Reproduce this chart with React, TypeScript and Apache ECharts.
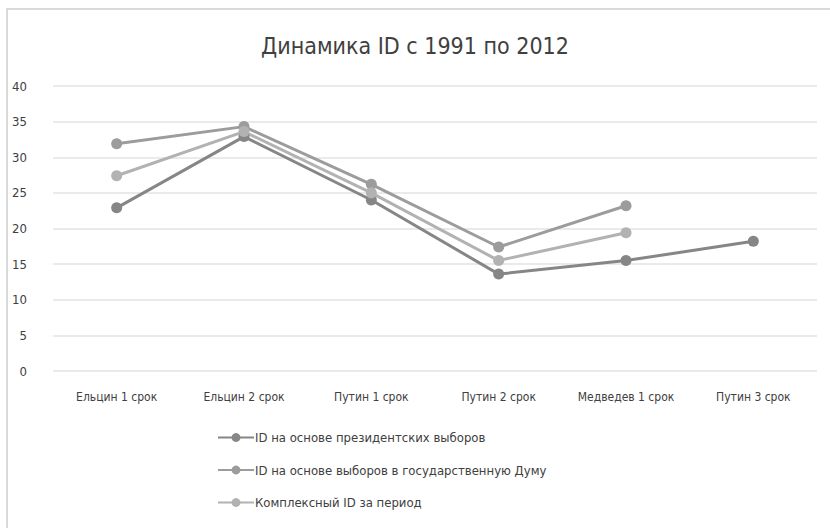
import React, { useEffect, useRef } from "react";
import * as echarts from "echarts";

const categories = ["Ельцин 1 срок", "Ельцин 2 срок", "Путин 1 срок", "Путин 2 срок", "Медведев 1 срок", "Путин 3 срок"];
const seriesNames = [
  "ID на основе президентских выборов",
  "ID на основе выборов в государственную Думу",
  "Комплексный ID за период",
];
const presidential = [22.9, 32.9, 24.0, 13.6, 15.5, 18.2];
const duma = [31.9, 34.3, 26.2, 17.4, 23.2, null];
const complexId = [27.4, 33.6, 25.0, 15.5, 19.4, null];
const yTicks = { min: 0, max: 40, interval: 5 };

const colors = ["#868686", "#9c9c9c", "#b2b2b2"];
const FONT = "'DejaVu Sans Condensed', 'Liberation Sans Narrow', 'Noto Sans', sans-serif";

export default function App() {
  const ref = useRef<HTMLDivElement>(null);
  useEffect(() => {
    document.body.style.margin = "0";
    const chart = echarts.init(ref.current!, null, { renderer: "svg" });
    const data = [presidential, duma, complexId];
    chart.setOption({
      animation: false,
      backgroundColor: "#ffffff",
      title: {
        text: "Динамика ID с 1991 по 2012",
        left: "center",
        top: 29,
        textStyle: { fontFamily: FONT, fontSize: 23, fontWeight: "normal", color: "#404040" },
      },
      graphic: [
        {
          type: "polyline",
          shape: { points: [[7, 528], [7, 9], [830, 9]] },
          style: { stroke: "#d9d9d9", lineWidth: 2, fill: null },
        },
      ],
      grid: { left: 53, right: 13, top: 86, bottom: 157 },
      legend: {
        orient: "vertical",
        left: 212,
        top: 426,
        itemGap: 19.5,
        itemWidth: 36,
        itemHeight: 11,
        data: seriesNames,
        textStyle: { fontFamily: FONT, fontSize: 13, color: "#404040", padding: [0, 0, 0, -4] },
      },
      xAxis: {
        type: "category",
        data: categories,
        boundaryGap: true,
        axisLine: { show: false },
        axisTick: { show: false },
        axisLabel: { interval: 0, fontFamily: FONT, fontSize: 12, color: "#404040", margin: 20 },
      },
      yAxis: {
        type: "value",
        min: yTicks.min,
        max: yTicks.max,
        interval: yTicks.interval,
        axisLine: { show: false },
        axisTick: { show: false },
        axisLabel: { fontFamily: FONT, fontSize: 13, color: "#404040", margin: 26 },
        splitLine: { lineStyle: { color: "#e3e3e3", width: 1.5 } },
      },
      series: seriesNames.map((name, i) => ({
        name,
        type: "line",
        data: data[i],
        symbol: "circle",
        symbolSize: 11,
        connectNulls: false,
        itemStyle: { color: colors[i] },
        lineStyle: { color: colors[i], width: 3 },
      })),
    });
    return () => chart.dispose();
  }, []);
  return <div ref={ref} style={{ width: 830, height: 528 }} />;
}
